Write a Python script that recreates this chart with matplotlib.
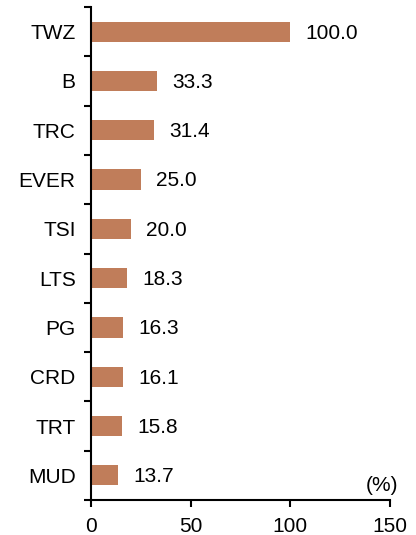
import matplotlib
matplotlib.use("Agg")
import matplotlib.pyplot as plt
import numpy as np

plt.rcParams["font.family"] = ["Liberation Sans", "DejaVu Sans"]

categories = ["TWZ", "B", "TRC", "EVER", "TSI", "LTS", "PG", "CRD", "TRT", "MUD"]
values = [100.0, 33.3, 31.4, 25.0, 20.0, 18.3, 16.3, 16.1, 15.8, 13.7]
x_ticks = [0, 50, 100, 150]

fig = plt.figure(figsize=(4.16, 5.35), dpi=100)
ax = fig.add_axes([91 / 416, 1 - 500 / 535, 299 / 416, 493 / 535])

pos = np.arange(len(categories))[::-1]
ax.barh(pos, values, height=0.41, color="#C07D5A")
for y, v in zip(pos, values):
    ax.annotate(f"{v:.1f}", (v, y), xytext=(11, -1), textcoords="offset points",
                va="center", ha="left", fontsize=15)

ax.set_xlim(0, 150)
ax.set_ylim(-0.5, len(categories) - 0.5)
ax.set_xticks(x_ticks)
ax.set_yticks(pos)
ax.set_yticklabels(categories)
ax.set_yticks(np.arange(-0.5, len(categories)), minor=True)
ax.tick_params(axis="y", which="major", length=0, pad=11, labelsize=15)
ax.tick_params(axis="y", which="minor", length=5, width=1.5, direction="out")
ax.tick_params(axis="x", length=5, width=1.5, direction="out", pad=7, labelsize=15)
for s in ["top", "right"]:
    ax.spines[s].set_visible(False)
for s in ["left", "bottom"]:
    ax.spines[s].set_linewidth(1.5)

ax.text(0.973, 0.03, "(%)", transform=ax.transAxes, ha="center", va="center", fontsize=15)

fig.savefig("out.png", dpi=100)
